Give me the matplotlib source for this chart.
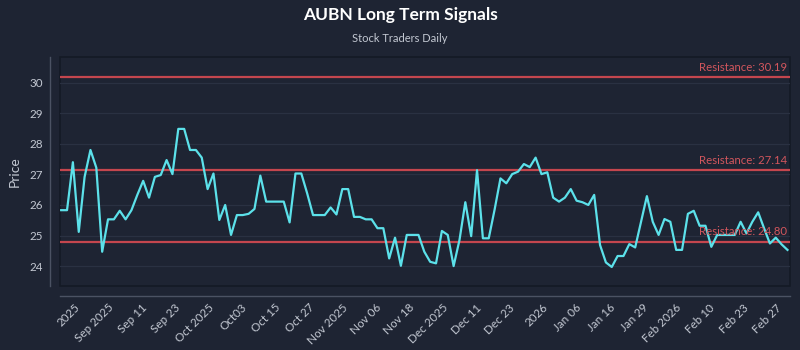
import matplotlib
matplotlib.use("Agg")
import matplotlib.pyplot as plt
import numpy as np

BG = "#1e2433"; GRID = "#2a3142"; SPINE = "#4b5263"; TXT = "#c3c8d2"
CYAN = "#5ce1ea"; RED = "#c4464e"; RED_T = "#d2565d"
plt.rcParams["font.family"] = ["Lato", "DejaVu Sans"]

prices = [
    25.83, 25.83, 27.40, 25.12, 26.92, 27.80, 27.22, 24.47, 25.53, 25.53,
    25.81, 25.53, 25.83, 26.33, 26.79, 26.24, 26.92, 26.98, 27.47, 27.01,
    28.49, 28.49, 27.80, 27.80, 27.55, 26.52, 27.03, 25.51, 26.00, 25.02,
    25.67, 25.67, 25.71, 25.87, 26.96, 26.11, 26.11, 26.11, 26.11, 25.43,
    27.03, 27.03, 26.38, 25.67, 25.67, 25.67, 25.92, 25.69, 26.52, 26.52,
    25.61, 25.61, 25.53, 25.53, 25.24, 25.24, 24.25, 24.93, 24.01, 25.02,
    25.02, 25.02, 24.47, 24.14, 24.09, 25.15, 25.02, 24.00, 24.85, 26.09,
    24.98, 27.14, 24.91, 24.91, 25.85, 26.87, 26.71, 27.01, 27.09, 27.34,
    27.24, 27.55, 27.01, 27.07, 26.24, 26.11, 26.24, 26.52, 26.14, 26.09,
    26.00, 26.33, 24.69, 24.12, 23.97, 24.33, 24.33, 24.72, 24.61, 25.45,
    26.29, 25.45, 25.02, 25.54, 25.45, 24.53, 24.53, 25.71, 25.81, 25.32,
    25.32, 24.63, 25.02, 25.02, 25.02, 25.02, 25.45, 25.07, 25.45, 25.76,
    25.24, 24.74, 24.93, 24.71, 24.53,
]
tick_labels = ["2025", "Sep 2025", "Sep 11", "Sep 23", "Oct 2025", "Oct03",
               "Oct 15", "Oct 27", "Nov 2025", "Nov 06", "Nov 18", "Dec 2025",
               "Dec 11", "Dec 23", "2026", "Jan 06", "Jan 16", "Jan 29",
               "Feb 2026", "Feb 10", "Feb 23", "Feb 27"]
levels = [30.19, 27.14, 24.80]
level_labels = ["Resistance: 30.19", "Resistance: 27.14", "Resistance: 24.80"]
yticks = [24, 25, 26, 27, 28, 29, 30]

fig = plt.figure(figsize=(8, 3.5), dpi=100)
fig.patch.set_facecolor(BG)
ax = fig.add_axes([0.075, 0.183, 0.913, 0.653])
ax.set_facecolor(BG)
ax.patch.set_edgecolor("#141a25")
ax.patch.set_linewidth(1.2)

x = np.arange(len(prices))
ax.plot(x, prices, color=CYAN, lw=1.6, zorder=4)

for lv, lab in zip(levels, level_labels):
    ax.axhline(lv, color=RED, lw=1.6, zorder=3)
    ax.annotate(lab, xy=(0.996, lv), xycoords=("axes fraction", "data"),
                xytext=(0, 3), textcoords="offset points", ha="right",
                va="bottom", fontsize=8.2, color=RED_T, zorder=5)

ax.set_xlim(-0.2, len(prices) - 0.5)
ax.set_ylim(23.35, 30.83)
ax.set_yticks(yticks)
ax.set_xticks(np.linspace(3.6, len(prices) - 1.6, len(tick_labels)))
ax.set_xticklabels(tick_labels)
ax.grid(axis="y", color=GRID, lw=0.9, zorder=0)
ax.tick_params(length=0, labelsize=8.4, colors=TXT, pad=5)
ax.tick_params(axis="x", pad=4)

for s in ["top", "right"]:
    ax.spines[s].set_visible(False)
for s in ["left", "bottom"]:
    ax.spines[s].set_position(("outward", 7.5))
    ax.spines[s].set_color(SPINE)
    ax.spines[s].set_linewidth(1.0)

ax.set_ylabel("Price", color=TXT, fontsize=10, labelpad=6)

fig.text(0.5, 1 - 15 / 350, "AUBN Long Term Signals", ha="center", va="center",
         fontsize=12.5, fontweight="bold", color="#ffffff")
fig.text(0.5, 1 - 38 / 350, "Stock Traders Daily", ha="center", va="center",
         fontsize=8, color=TXT)

plt.setp(ax.get_xticklabels(), rotation=45, ha="right")
fig.savefig("out.png", facecolor=BG, dpi=100)
